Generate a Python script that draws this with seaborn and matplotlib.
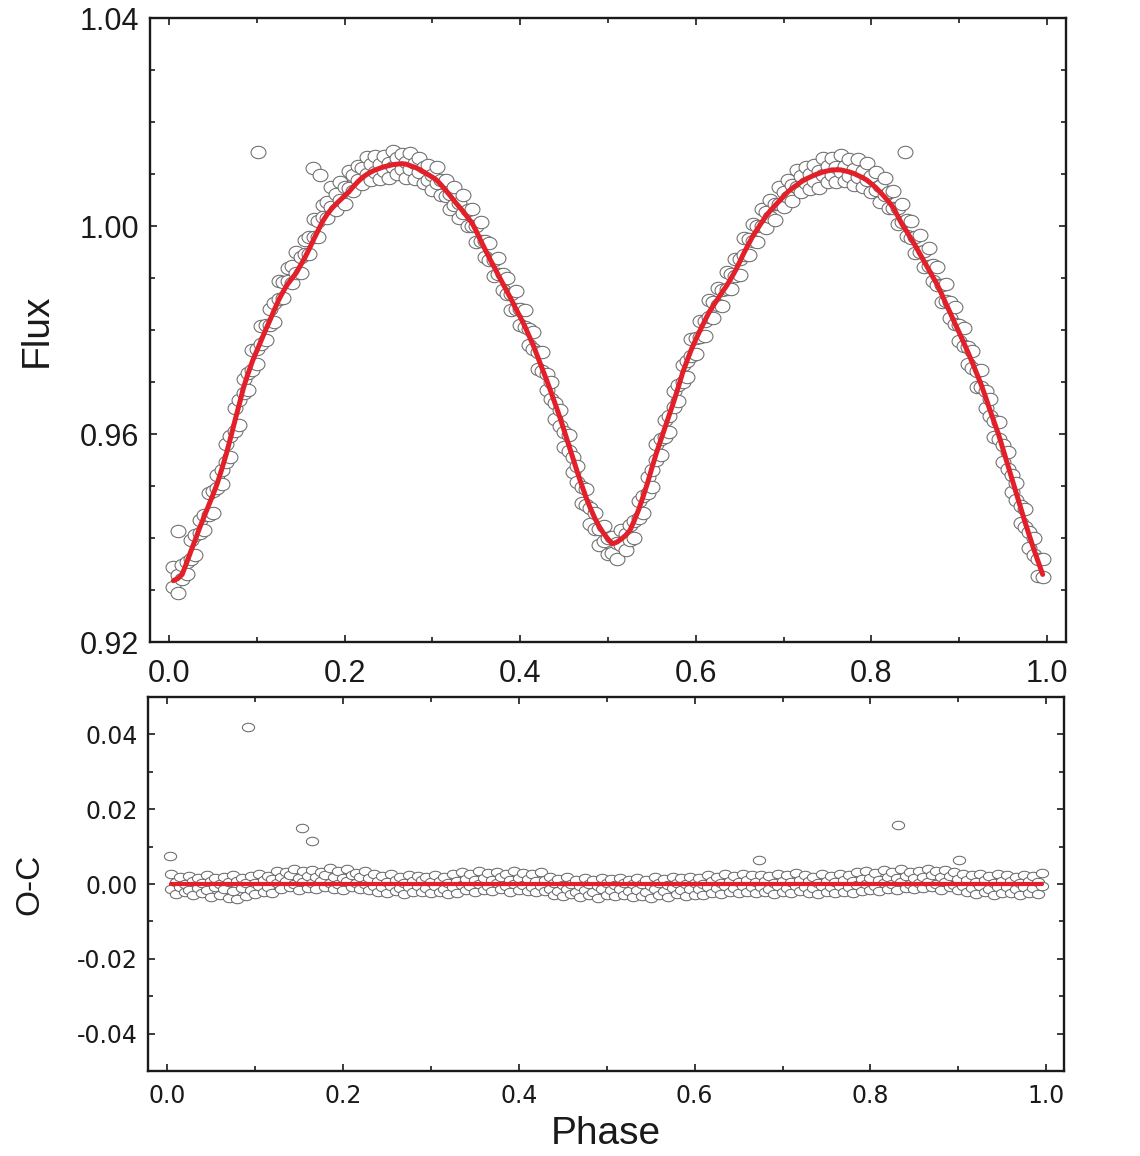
import numpy as np
import pandas as pd
import matplotlib
matplotlib.use("Agg")
import matplotlib.pyplot as plt
import seaborn as sns
from matplotlib.path import Path
from matplotlib.transforms import Affine2D
from matplotlib.ticker import MultipleLocator, FormatStrFormatter

# fitted model (C), read at two interleaved phase grids
model_phase_a = [
    0.005, 0.015, 0.025, 0.035, 0.045, 0.055, 0.065, 0.075, 0.085, 0.095,
    0.105, 0.115, 0.125, 0.135, 0.145, 0.155, 0.165, 0.175, 0.185, 0.195,
    0.205, 0.215, 0.225, 0.235, 0.245, 0.255, 0.265, 0.275, 0.285, 0.295,
    0.305, 0.315, 0.325, 0.335, 0.345, 0.355, 0.365, 0.375, 0.385, 0.395,
    0.405, 0.415, 0.425, 0.435, 0.445, 0.455, 0.465, 0.475, 0.485, 0.495,
    0.505, 0.515, 0.525, 0.535, 0.545, 0.555, 0.565, 0.575, 0.585, 0.595,
    0.605, 0.615, 0.625, 0.635, 0.645, 0.655, 0.665, 0.675, 0.685, 0.695,
    0.705, 0.715, 0.725, 0.735, 0.745, 0.755, 0.765, 0.775, 0.785, 0.795,
    0.805, 0.815, 0.825, 0.835, 0.845, 0.855, 0.865, 0.875, 0.885, 0.895,
    0.905, 0.915, 0.925, 0.935, 0.945, 0.955, 0.965, 0.975, 0.985, 0.995,
]
model_flux_a = [
    0.9318, 0.9330, 0.9375, 0.9420, 0.9462, 0.9505, 0.9560, 0.9625, 0.9690, 0.9740,
    0.9780, 0.9819, 0.9858, 0.9888, 0.9910, 0.9940, 0.9975, 1.0009, 1.0033, 1.0050,
    1.0066, 1.0085, 1.0099, 1.0108, 1.0114, 1.0118, 1.0120, 1.0116, 1.0109, 1.0099,
    1.0088, 1.0069, 1.0048, 1.0028, 1.0006, 0.9972, 0.9938, 0.9906, 0.9874, 0.9841,
    0.9808, 0.9770, 0.9726, 0.9681, 0.9633, 0.9580, 0.9527, 0.9478, 0.9438, 0.9409,
    0.9389, 0.9398, 0.9415, 0.9455, 0.9506, 0.9563, 0.9613, 0.9663, 0.9718, 0.9763,
    0.9800, 0.9834, 0.9860, 0.9885, 0.9914, 0.9949, 0.9981, 1.0007, 1.0030, 1.0048,
    1.0066, 1.0079, 1.0090, 1.0098, 1.0104, 1.0108, 1.0108, 1.0104, 1.0097, 1.0088,
    1.0074, 1.0056, 1.0035, 1.0003, 0.9976, 0.9947, 0.9917, 0.9887, 0.9850, 0.9813,
    0.9776, 0.9737, 0.9695, 0.9646, 0.9598, 0.9542, 0.9486, 0.9430, 0.9378, 0.9330,
]
model_phase_b = [
    0.01, 0.02, 0.03, 0.04, 0.05, 0.06, 0.07, 0.08, 0.09, 0.10,
    0.11, 0.12, 0.13, 0.14, 0.15, 0.16, 0.17, 0.18, 0.19, 0.20,
    0.21, 0.22, 0.23, 0.24, 0.25, 0.26, 0.27, 0.28, 0.29, 0.30,
    0.31, 0.32, 0.33, 0.34, 0.35, 0.36, 0.37, 0.38, 0.39, 0.40,
    0.41, 0.42, 0.43, 0.44, 0.45, 0.46, 0.47, 0.48, 0.49, 0.50,
    0.51, 0.52, 0.53, 0.54, 0.55, 0.56, 0.57, 0.58, 0.59, 0.60,
    0.61, 0.62, 0.63, 0.64, 0.65, 0.66, 0.67, 0.68, 0.69, 0.70,
    0.71, 0.72, 0.73, 0.74, 0.75, 0.76, 0.77, 0.78, 0.79, 0.80,
    0.81, 0.82, 0.83, 0.84, 0.85, 0.86, 0.87, 0.88, 0.89, 0.90,
    0.91, 0.92, 0.93, 0.94, 0.95, 0.96, 0.97, 0.98, 0.99,
]
model_flux_b = [
    0.9322, 0.9352, 0.9397, 0.9441, 0.9483, 0.9532, 0.9592, 0.9657, 0.9716, 0.9760,
    0.9800, 0.9839, 0.9874, 0.9899, 0.9925, 0.9957, 0.9992, 1.0022, 1.0042, 1.0058,
    1.0076, 1.0093, 1.0104, 1.0111, 1.0116, 1.0119, 1.0119, 1.0113, 1.0104, 1.0094,
    1.0079, 1.0059, 1.0038, 1.0017, 0.9990, 0.9955, 0.9922, 0.9890, 0.9858, 0.9825,
    0.9789, 0.9748, 0.9704, 0.9657, 0.9607, 0.9554, 0.9502, 0.9457, 0.9422, 0.9398,
    0.9392, 0.9405, 0.9434, 0.9480, 0.9535, 0.9588, 0.9638, 0.9690, 0.9741, 0.9782,
    0.9817, 0.9847, 0.9873, 0.9899, 0.9931, 0.9965, 0.9994, 1.0019, 1.0039, 1.0057,
    1.0073, 1.0085, 1.0094, 1.0101, 1.0106, 1.0108, 1.0106, 1.0101, 1.0093, 1.0081,
    1.0065, 1.0046, 1.0019, 0.9990, 0.9962, 0.9932, 0.9902, 0.9869, 0.9832, 0.9795,
    0.9757, 0.9716, 0.9671, 0.9622, 0.9570, 0.9514, 0.9458, 0.9404, 0.9354,
]

# O-C of four observing runs in units of 0.001 flux
# runs 1 and 3 fall on grid a, runs 2 and 4 on grid b
oc_run1 = [
    2.6, 1.9, 2.2, 1.5, 2.4, 1.7, 2.0, 2.5, 1.6, 2.1,
    2.8, 2.2, 3.6, 3.1, 4.0, 3.4, 3.8, 3.2, 4.3, 3.5,
    3.9, 3.0, 3.4, 2.6, 2.1, 2.7, 1.9, 2.4, 2.2, 1.8,
    2.5, 2.0, 2.8, 3.2, 2.6, 3.5, 2.9, 3.3, 2.7, 3.4,
    3.0, 2.6, 3.1, 1.9, 1.4, 1.8, 1.2, 1.6, 1.0, 1.5,
    1.3, 1.7, 1.1, 1.6, 1.2, 1.8, 1.4, 1.9, 1.5, 2.0,
    1.7, 2.4, 2.0, 2.6, 2.2, 2.8, 2.3, 2.5, 2.1, 2.7,
    2.3, 2.9, 2.4, 2.0, 2.6, 2.2, 2.8, 2.5, 3.1, 3.4,
    3.0, 3.7, 3.2, 3.9, 3.3, 3.6, 4.0, 3.4, 3.8, 3.1,
    2.7, 2.3, 2.8, 2.1, 2.6, 2.4, 2.0, 2.5, 2.2, 2.9,
]
oc_run2 = [
    0.6, 0.1, 0.9, 0.3, 0.7, -0.1, 0.5, 0.8, 0.2, 0.4,
    1.0, 1.3, 1.9, 2.4, 1.6, 2.2, 1.8, 2.5, 2.0, 1.7,
    2.3, 1.9, 1.5, 0.9, 0.6, 1.1, 0.4, 0.8, 1.0, 0.5,
    0.9, 0.3, 0.7, 1.4, 1.0, 1.6, 1.2, 1.8, 1.1, 1.5,
    1.3, 0.9, 1.2, 0.2, -0.3, 0.1, -0.4, 0.0, -0.5, 0.2,
    -0.2, 0.3, -0.1, 0.0, -0.4, 0.2, -0.3, 0.4, -0.1, 0.3,
    0.1, 0.7, 0.4, 0.9, 0.5, 1.0, 0.6, 0.8, 0.3, 0.9,
    0.5, 1.1, 0.7, 0.4, 0.9, 0.6, 1.0, 0.8, 1.3, 1.6,
    1.2, 1.9, 1.5, 2.1, 1.7, 2.0, 2.3, 1.8, 2.2, 1.4,
    1.0, 0.6, 1.1, 0.4, 0.9, 0.7, 0.3, 0.8, 0.5,
]
oc_run3 = [
    -1.2, -0.8, -1.5, -1.0, -1.7, -0.9, -1.4, -1.9, -1.1, -1.6,
    -0.6, -0.9, 0.2, 0.7, 0.0, 0.6, 0.3, 0.9, 0.4, 0.1,
    0.8, 0.4, 0.1, -0.5, -0.9, -0.4, -1.1, -0.7, -0.6, -1.0,
    -0.5, -1.2, -0.8, -0.2, -0.6, 0.0, -0.4, 0.2, -0.5, -0.1,
    -0.3, -0.7, -0.4, -1.4, -1.8, -1.3, -2.0, -1.5, -2.1, -1.4,
    -1.7, -1.2, -1.9, -1.6, -2.0, -1.3, -1.8, -1.1, -1.7, -1.2,
    -1.4, -0.8, -1.1, -0.6, -1.0, -0.5, -0.9, -0.7, -1.2, -0.6,
    -1.0, -0.4, -0.8, -1.1, -0.6, -0.9, -0.5, -0.7, -0.3, 0.0,
    -0.4, 0.3, -0.1, 0.5, 0.1, 0.4, 0.6, 0.0, 0.5, -0.2,
    -0.6, -1.0, -0.5, -1.2, -0.7, -0.9, -1.3, -0.8, -1.1, -0.4,
]
oc_run4 = [
    -2.7, -2.2, -3.0, -2.5, -3.4, -2.8, -3.6, -3.9, -3.1, -2.6,
    -2.0, -2.4, -1.3, -0.8, -1.5, -1.0, -1.4, -0.7, -1.2, -1.6,
    -0.9, -1.3, -1.6, -2.0, -2.4, -1.9, -2.6, -2.2, -2.1, -2.5,
    -2.0, -2.7, -2.3, -1.7, -2.1, -1.5, -1.9, -1.3, -2.0, -1.6,
    -1.8, -2.2, -1.9, -2.8, -3.2, -2.7, -3.5, -3.0, -3.6, -2.9,
    -3.3, -2.8, -3.4, -3.1, -3.7, -2.9, -3.4, -2.7, -3.2, -2.8,
    -2.9, -2.3, -2.6, -2.1, -2.5, -2.0, -2.4, -2.2, -2.7, -2.1,
    -2.5, -1.9, -2.3, -2.7, -2.1, -2.4, -2.0, -2.3, -1.8, -1.5,
    -1.9, -1.2, -1.6, -1.0, -1.4, -1.1, -0.8, -1.5, -0.9, -1.7,
    -2.2, -2.6, -2.0, -2.8, -2.3, -2.5, -2.9, -2.4, -2.7,
]

# isolated outlying points
flux_out_phase = [0.010, 0.101, 0.164, 0.172, 0.838]
flux_out_value = [0.9413, 1.0142, 1.0112, 1.0098, 1.0142]
oc_out_phase = [0.003, 0.092, 0.154, 0.165, 0.673, 0.831, 0.901]
oc_out_value = [0.0076, 0.0419, 0.0150, 0.0114, 0.0063, 0.0158, 0.0065]

RED = "#e3202a"
EDGE = "#6a6a6a"
INK = "#1a1a1a"

sns.set_style("ticks")
plt.rcParams["font.family"] = ["Liberation Sans", "DejaVu Sans"]


def observations(phases, fluxes, run):
    # O = C + (O-C)
    oc = np.array(run) / 1000.0
    return pd.DataFrame({"phase": phases, "oc": oc, "flux": np.array(fluxes) + oc})


obs = pd.concat([
    observations(model_phase_a, model_flux_a, oc_run1),
    observations(model_phase_b, model_flux_b, oc_run2),
    observations(model_phase_a, model_flux_a, oc_run3),
    observations(model_phase_b, model_flux_b, oc_run4),
], ignore_index=True).sort_values("phase", kind="stable")

obs_top = pd.concat([obs[["phase", "flux"]],
                     pd.DataFrame({"phase": flux_out_phase, "flux": flux_out_value})],
                    ignore_index=True)
obs_bot = pd.concat([obs[["phase", "oc"]],
                     pd.DataFrame({"phase": oc_out_phase, "oc": oc_out_value})],
                    ignore_index=True)

model = pd.DataFrame({"phase": model_phase_a + model_phase_b,
                      "flux": model_flux_a + model_flux_b}).sort_values("phase")
model["zero"] = 0.0

ring_top = Path.unit_circle().transformed(Affine2D().scale(1.2, 1.0))
ring_bot = Path.unit_circle().transformed(Affine2D().scale(1.45, 1.0))

fig = plt.figure(figsize=(11.4, 11.56), dpi=100)
ax1 = fig.add_axes([0.1316, 0.4446, 0.8035, 0.5398])
ax2 = fig.add_axes([0.1298, 0.0735, 0.8035, 0.3235])

sns.scatterplot(data=obs_top, x="phase", y="flux", ax=ax1, marker=ring_top, s=115,
                color="white", edgecolor=EDGE, linewidth=0.75, zorder=2, legend=False)
sns.lineplot(data=model, x="phase", y="flux", ax=ax1, color=RED, linewidth=3.6,
             sort=False, zorder=3)

sns.scatterplot(data=obs_bot, x="phase", y="oc", ax=ax2, marker=ring_bot, s=78,
                color="white", edgecolor=EDGE, linewidth=0.75, zorder=2, legend=False)
sns.lineplot(data=model, x="phase", y="zero", ax=ax2, color=RED, linewidth=3.0,
             sort=False, zorder=3)

ax1.set_xlim(-0.0216, 1.0216)
ax1.set_ylim(0.92, 1.04)
ax2.set_xlim(-0.0216, 1.02)
ax2.set_ylim(-0.05, 0.05)

for ax in (ax1, ax2):
    ax.xaxis.set_major_locator(MultipleLocator(0.2))
    ax.xaxis.set_minor_locator(MultipleLocator(0.1))
    ax.xaxis.set_major_formatter(FormatStrFormatter("%.1f"))
    ax.yaxis.set_major_formatter(FormatStrFormatter("%.2f"))
    ax.tick_params(which="both", direction="in", top=True, right=True,
                   colors=INK, width=1.2)
    ax.tick_params(which="major", length=5)
    ax.tick_params(which="minor", length=3.5)
    for side in ("left", "right", "top", "bottom"):
        ax.spines[side].set_visible(True)
        ax.spines[side].set_linewidth(1.7)
        ax.spines[side].set_color(INK)

ax1.yaxis.set_major_locator(MultipleLocator(0.04))
ax1.yaxis.set_minor_locator(MultipleLocator(0.01))
ax2.yaxis.set_major_locator(MultipleLocator(0.02))
ax2.yaxis.set_minor_locator(MultipleLocator(0.01))

ax1.tick_params(axis="x", labelsize=22, pad=12)
ax1.tick_params(axis="y", labelsize=22, pad=8)
ax2.tick_params(axis="x", labelsize=17, pad=9)
ax2.tick_params(axis="y", labelsize=17, pad=7)
for lab in ax2.get_xticklabels() + ax2.get_yticklabels():
    lab.set_fontfamily(["DejaVu Sans"])

ax1.set_xlabel("")
ax1.set_ylabel("Flux", fontsize=28, color=INK)
ax1.yaxis.set_label_coords(-0.104, 0.5)

ax2.set_ylabel("O-C", fontsize=24, color=INK)
ax2.yaxis.set_label_coords(-0.112, 0.5)
ax2.set_xlabel("Phase", fontsize=28, color=INK)
ax2.xaxis.set_label_coords(0.5, -0.12)

fig.savefig("out.png", dpi=100, facecolor="white")
